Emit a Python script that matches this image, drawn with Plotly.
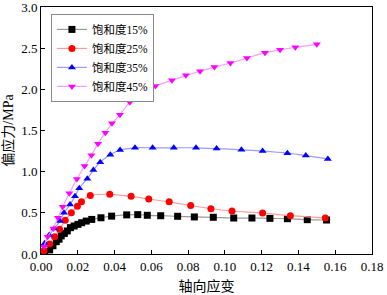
import plotly.graph_objects as go

x15 = [0.002, 0.0047, 0.0065, 0.0083, 0.0098, 0.011, 0.0127, 0.0143, 0.016, 0.018, 0.0201, 0.0221, 0.0246, 0.0276, 0.0326, 0.0384, 0.0466, 0.0526, 0.0578, 0.0651, 0.0743, 0.0834, 0.0937, 0.1048, 0.1147, 0.1245, 0.134, 0.1448, 0.1553]
y15 = [0.02, 0.05, 0.10, 0.15, 0.18, 0.22, 0.25, 0.28, 0.32, 0.34, 0.36, 0.38, 0.40, 0.42, 0.44, 0.46, 0.475, 0.478, 0.47, 0.465, 0.458, 0.45, 0.446, 0.437, 0.437, 0.433, 0.429, 0.417, 0.413]

x25 = [0.0016, 0.0047, 0.0074, 0.0101, 0.0132, 0.0165, 0.0198, 0.022, 0.0268, 0.0374, 0.049, 0.0586, 0.0697, 0.0814, 0.0924, 0.1039, 0.1205, 0.1356, 0.1546]
y25 = [0.04, 0.12, 0.21, 0.30, 0.41, 0.50, 0.58, 0.635, 0.71, 0.725, 0.70, 0.668, 0.634, 0.589, 0.55, 0.522, 0.498, 0.465, 0.437]

x35 = [0.002, 0.0045, 0.0072, 0.0103, 0.0125, 0.0158, 0.0185, 0.0208, 0.0252, 0.0285, 0.0322, 0.0377, 0.0430, 0.0511, 0.0607, 0.0722, 0.0843, 0.0955, 0.109, 0.1205, 0.134, 0.144, 0.156]
y35 = [0.13, 0.23, 0.31, 0.40, 0.50, 0.60, 0.70, 0.80, 0.915, 1.02, 1.115, 1.205, 1.263, 1.29, 1.29, 1.29, 1.29, 1.28, 1.265, 1.25, 1.225, 1.195, 1.155]

x45 = [0.0016, 0.0036, 0.0067, 0.0092, 0.0118, 0.0154, 0.0195, 0.0237, 0.0274, 0.031, 0.035, 0.0386, 0.0429, 0.0483, 0.0542, 0.0622, 0.0712, 0.0788, 0.0865, 0.0943, 0.103, 0.112, 0.1218, 0.130, 0.1383, 0.150]
y45 = [0.09, 0.21, 0.31, 0.44, 0.575, 0.737, 0.91, 1.069, 1.2, 1.34, 1.474, 1.587, 1.69, 1.844, 1.927, 2.04, 2.11, 2.17, 2.22, 2.27, 2.32, 2.38, 2.445, 2.48, 2.51, 2.547]

names = ["饱和度15%", "饱和度25%", "饱和度35%", "饱和度45%"]

series = [
    (x15, y15, names[0], "#000000", "#999999", "square"),
    (x25, y25, names[1], "#ff0000", "#ff9999", "circle"),
    (x35, y35, names[2], "#0000ff", "#9999ff", "triangle-up"),
    (x45, y45, names[3], "#ff00ff", "#ff99ff", "triangle-down"),
]

FONT = "Liberation Serif, Times New Roman, Noto Sans CJK SC, serif"

fig = go.Figure()
for xs, ys, nm, mc, lc, sym in series:
    fig.add_trace(go.Scatter(
        x=xs, y=ys, name=nm, mode="lines+markers",
        line=dict(color=lc, width=1.2, shape="spline", smoothing=0.6),
        marker=dict(symbol=sym, color=mc, size=7, line=dict(width=0)),
    ))

fig.update_layout(
    width=387, height=295,
    margin=dict(l=41, r=15, t=7, b=41),
    paper_bgcolor="white", plot_bgcolor="white",
    font=dict(family=FONT, size=13, color="black"),
    showlegend=True,
    legend=dict(
        x=0.03, y=0.972, xanchor="left", yanchor="top",
        bgcolor="white", bordercolor="#888888", borderwidth=1,
        font=dict(family=FONT, size=11.5),
        tracegroupgap=0, itemwidth=30,
    ),
)

fig.update_xaxes(
    range=[0, 0.18], tickmode="array",
    tickvals=[0, 0.02, 0.04, 0.06, 0.08, 0.10, 0.12, 0.14, 0.16, 0.18],
    ticktext=["0.00", "0.02", "0.04", "0.06", "0.08", "0.10", "0.12", "0.14", "0.16", "0.18"],
    ticks="inside", ticklen=4, tickcolor="black",
    showline=True, linecolor="black", linewidth=1, mirror=True,
    showgrid=False, zeroline=False, automargin=False, ticklabeloverflow="allow",
    title=dict(text="轴向应变", font=dict(family=FONT, size=14), standoff=8),
)
fig.update_yaxes(
    range=[0, 3.0], tickmode="array",
    tickvals=[0, 0.5, 1.0, 1.5, 2.0, 2.5, 3.0],
    ticktext=["0.0", "0.5", "1.0", "1.5", "2.0", "2.5", "3.0"],
    ticks="inside", ticklen=4, tickcolor="black",
    showline=True, linecolor="black", linewidth=1, mirror=True,
    showgrid=False, zeroline=False, automargin=False, ticklabeloverflow="allow",
    title=dict(text="偏应力/MPa", font=dict(family=FONT, size=14), standoff=4),
)

fig.write_html(
    "out.html",
    config={"displayModeBar": False},
    post_script="document.body.style.margin='0';document.body.style.padding='0';document.body.style.overflow='hidden';",
)
